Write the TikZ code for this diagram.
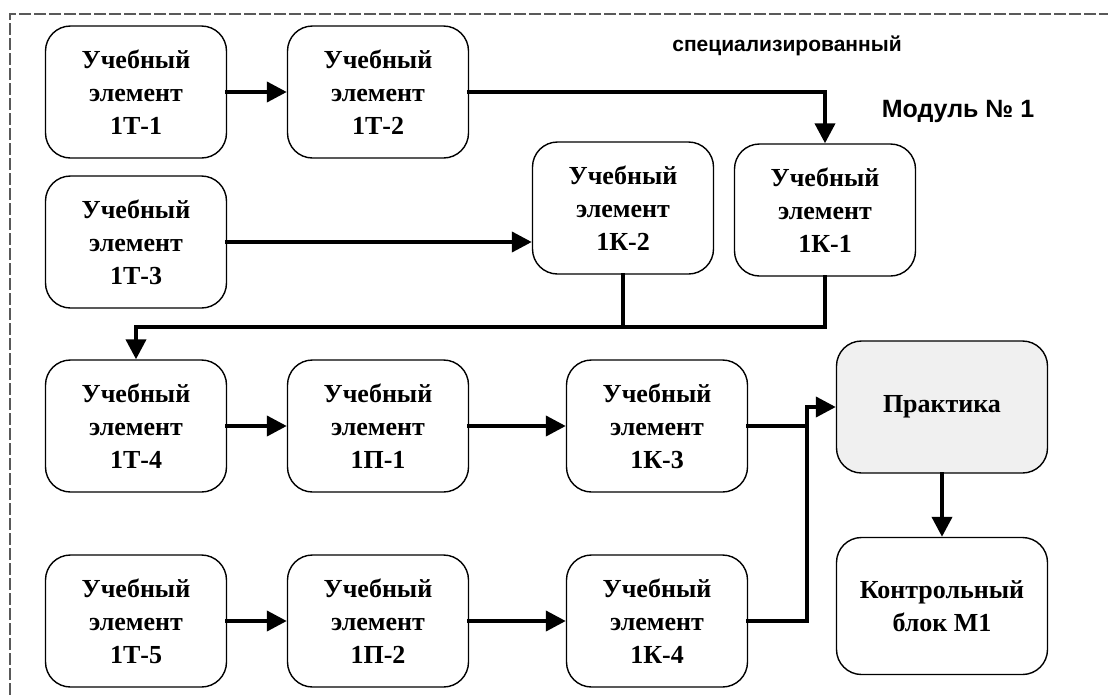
\documentclass[tikz,border=0pt]{standalone}
\usepackage{fontspec}
\setmainfont{Liberation Serif}
\newfontfamily\labelfont{Liberation Sans}
\usetikzlibrary{arrows.meta}

\begin{document}
\begin{tikzpicture}[x=1pt,y=-1pt,>={Triangle[length=20pt,width=20pt]},line cap=rect,
    box/.style={draw,line width=1.4pt,rounded corners=25pt,minimum width=181pt,minimum height=132pt,
        align=center,inner sep=0pt,font=\bfseries\fontsize{26}{33}\selectfont},
    wide/.style={box,minimum width=211pt},
    conn/.style={line width=4pt},
    frame/.style={line width=2.2pt,black!65,dash pattern=on 10pt off 5pt}]
    \useasboundingbox (0,0) rectangle (1108,694);
    \draw[frame] (10,694) -- (10,14) -- (1108,14);
    \node[box] (t1) at (136,92) {Учебный\\элемент\\1Т-1};
    \node[box] (t2) at (378,92) {Учебный\\элемент\\1Т-2};
    \node[box] (t3) at (136,242) {Учебный\\элемент\\1Т-3};
    \node[box] (k2) at (623,208) {Учебный\\элемент\\1К-2};
    \node[box] (k1) at (825,210) {Учебный\\элемент\\1К-1};
    \node[box] (t4) at (136,426) {Учебный\\элемент\\1Т-4};
    \node[box] (p1) at (378,426) {Учебный\\элемент\\1П-1};
    \node[box] (k3) at (657,426) {Учебный\\элемент\\1К-3};
    \node[box] (t5) at (136,621) {Учебный\\элемент\\1Т-5};
    \node[box] (p2) at (378,621) {Учебный\\элемент\\1П-2};
    \node[box] (k4) at (657,621) {Учебный\\элемент\\1К-4};
    \node[wide,fill={rgb,255:red,240;green,240;blue,240}] (pr) at (942,407) {Практика};
    \node[wide,minimum height=137pt] (kb) at (942,606) {Контрольный\\блок М1};
    \node[font=\labelfont\bfseries\fontsize{21}{24}\selectfont] (spec) at (787,46) {специализированный};
    \node[font=\labelfont\bfseries\fontsize{25}{30}\selectfont] (mod) at (958,111) {Модуль № 1};
    \coordinate (bus) at (0,327);
    \coordinate (mrg) at (807,0);
    \foreach \a/\b in {t1/t2,t4/p1,p1/k3,t5/p2,p2/k4}{
        \draw[conn,->] (\a.east) -- (\b.west);
    }
    \draw[conn,->] (t2.east) -| (k1.north);
    \draw[conn,->] (t3.east) -- (t3.east -| k2.west);
    \draw[conn] (k2.south) -- (k2.south |- bus);
    \draw[conn,->] (k1.south) -- (k1.south |- bus) -| (t4.north);
    \draw[conn] (k3.east) -- (k3.east -| mrg);
    \draw[conn,->] (k4.east) -| (mrg |- pr.west) -- (pr.west);
    \draw[conn,->] (pr.south) -- (kb.north);
\end{tikzpicture}
\end{document}
